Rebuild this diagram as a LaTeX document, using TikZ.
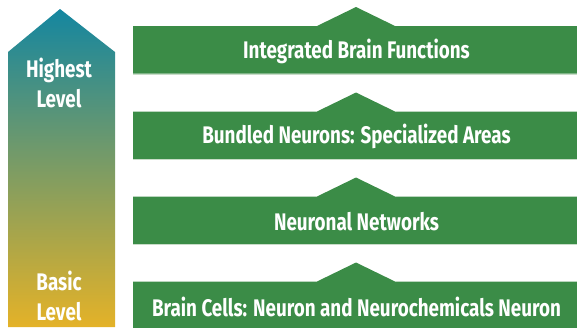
\documentclass[tikz,border=0pt]{standalone}
\usepackage{fontspec}
\setmainfont{Fira Sans}[FakeStretch=0.785,UprightFont=* Bold]
\definecolor{barg}{RGB}{59,140,71}
\definecolor{barline}{RGB}{200,220,200}
\definecolor{teal}{RGB}{20,134,160}
\definecolor{midg}{RGB}{126,140,120}
\definecolor{gold}{RGB}{228,178,40}
\tikzset{
  bartext/.style={text=white,font=\fontsize{24}{28}\selectfont,inner sep=0pt},
  lvltext/.style={text=white,font=\fontsize{24}{30}\selectfont,align=center,inner sep=0pt},
  barfill/.style={fill=barg},
}
\begin{document}
\begin{tikzpicture}[x=1pt,y=-1pt]
\useasboundingbox (0,0) rectangle (577,327);
% left gradient arrow
\shade[top color=teal,middle color=midg,bottom color=gold]
  (8,327) -- (8,52) -- (60,9) -- (115,52) -- (115,327) -- cycle;
\node[lvltext] (hi) at (59,83) {Highest\\Level};
\node[lvltext] (ba) at (59,295.5) {Basic\\Level};
% bars
\foreach \t/\n/\txt in {
  26/b1/{Integrated Brain Functions},
  111.5/b2/{Bundled Neurons: Specialized Areas},
  196.5/b3/{Neuronal Networks},
  281.5/b4/{Brain Cells: Neuron and Neurochemicals Neuron}}{
  \fill[barfill] (133,\t) -- (317,\t) -- (356,\t-19) -- (395,\t) -- (577,\t)
     -- (577,\t+47.5) -- (133,\t+47.5) -- cycle;
  \draw[barline,line width=0.8pt] (133,\t+48) -- (577,\t+48);
  \node[bartext] (\n) at (356.5,\t+25) {\txt};
}
\end{tikzpicture}
\end{document}
